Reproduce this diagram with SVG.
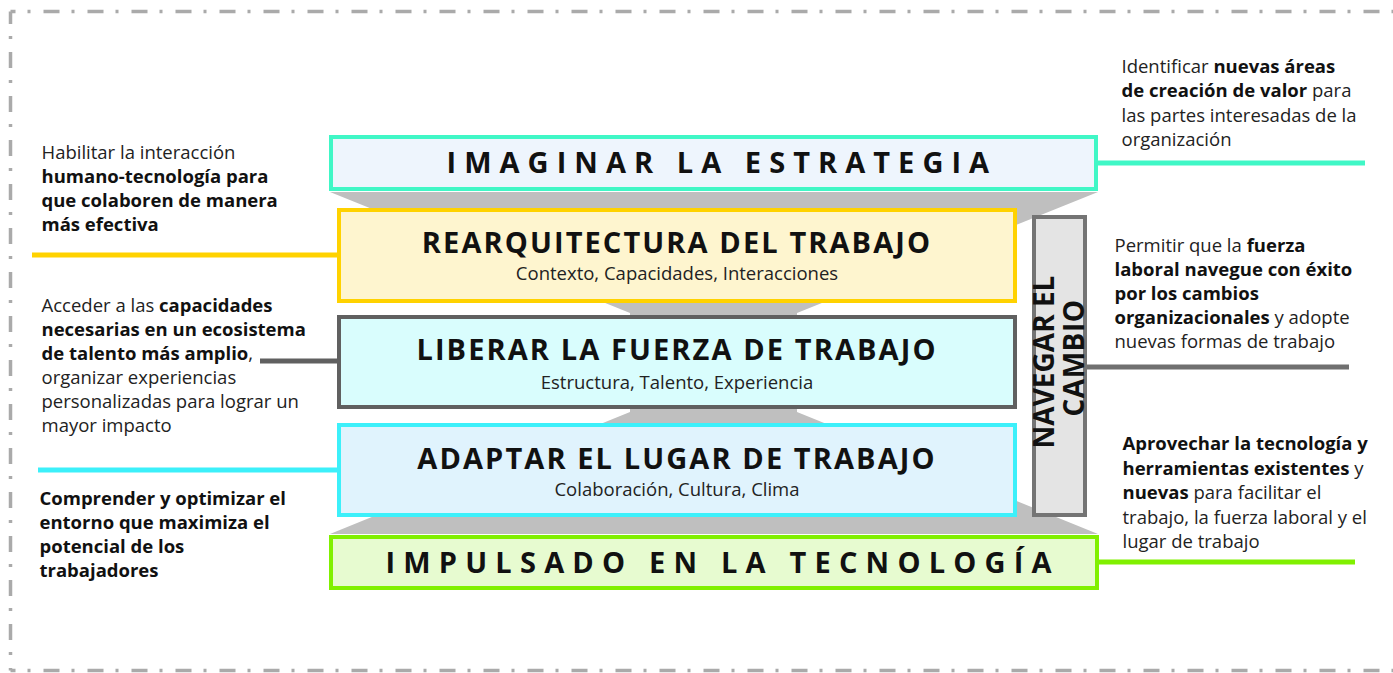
<svg xmlns="http://www.w3.org/2000/svg" width="1393" height="673" viewBox="0 0 1393 673">
<style>
.frame{fill:none;stroke:#aaaaaa;stroke-width:3.5;stroke-dasharray:16 12 3 13}
.box{stroke-width:4}
.title{font-family:"Open Sans","DejaVu Sans",sans-serif;font-weight:700;font-size:29px;fill:#111}
.nav{font-family:"Open Sans","DejaVu Sans",sans-serif;font-weight:700;font-size:28px;fill:#111}
.sub{font-family:"Open Sans","DejaVu Sans",sans-serif;font-size:18.5px;fill:#222;text-anchor:middle}
.note{font-family:"Open Sans","DejaVu Sans",sans-serif;font-size:18.5px;fill:#222}
.b{font-weight:700;fill:#111}
.conn{stroke-width:5;fill:none}
</style>
<rect width="1393" height="673" fill="#ffffff"/>
<g id="frame">
<path class="frame" d="M10.5 11.5 H1393" stroke-dashoffset="11"/>
<path class="frame" d="M10.5 11.5 V670.5" stroke-dashoffset="3.5"/>
<path class="frame" d="M10.5 670.5 H1393" stroke-dashoffset="11"/>
</g>
<g id="hourglass">
<polygon points="330,192 1098,192 797,313 797,412 1098,534 330,534 630,412 630,313" fill="#bfbfbf"/>
</g>
<g id="connectors">
<line class="conn" x1="1098" y1="163" x2="1365" y2="163" stroke="#40f7c6"/>
<line class="conn" x1="32" y1="255" x2="339" y2="255" stroke="#ffd200"/>
<line class="conn" x1="260" y1="361" x2="339" y2="361" stroke="#606060"/>
<line class="conn" x1="38" y1="470" x2="339" y2="470" stroke="#3cf0fa"/>
<line class="conn" x1="1085" y1="367" x2="1349" y2="367" stroke="#707070"/>
<line class="conn" x1="1098" y1="562" x2="1355" y2="562" stroke="#80f000"/>
</g>
<g id="imaginar">
<rect class="box" x="331" y="137" width="765" height="52" fill="#eef5fd" stroke="#40f7c6"/>
<text class="title" x="446.5" y="173.3" letter-spacing="8.05">IMAGINAR LA ESTRATEGIA</text>
</g>
<g id="rearquitectura">
<rect class="box" x="339" y="210" width="676" height="91" fill="#fef5cf" stroke="#ffd200"/>
<text class="title" x="677" y="252.5" text-anchor="middle" letter-spacing="2.1">REARQUITECTURA DEL TRABAJO</text>
<text class="sub" x="677" y="280.3">Contexto, Capacidades, Interacciones</text>
</g>
<g id="liberar">
<rect class="box" x="339" y="317" width="676" height="90" fill="#d9fdfd" stroke="#606060"/>
<text class="title" x="677" y="360.2" text-anchor="middle" letter-spacing="2.1">LIBERAR LA FUERZA DE TRABAJO</text>
<text class="sub" x="677" y="389.3">Estructura, Talento, Experiencia</text>
</g>
<g id="adaptar">
<rect class="box" x="339" y="425" width="676" height="90" fill="#e0f3fd" stroke="#3cf0fa"/>
<text class="title" x="677" y="468.5" text-anchor="middle" letter-spacing="2.1">ADAPTAR EL LUGAR DE TRABAJO</text>
<text class="sub" x="677" y="496">Colaboración, Cultura, Clima</text>
</g>
<g id="impulsado">
<rect class="box" x="331" y="537" width="766" height="51" fill="#e7fbd0" stroke="#80f000"/>
<text class="title" x="385.5" y="573" letter-spacing="8.2">IMPULSADO EN LA TECNOLOGÍA</text>
</g>
<g id="navegar">
<rect class="box" x="1034" y="217" width="51" height="298" fill="#e4e4e4" stroke="#747474"/>
<text class="nav" transform="translate(1053.5,362) rotate(-90)" text-anchor="middle">NAVEGAR EL</text>
<text class="nav" transform="translate(1084,358) rotate(-90)" text-anchor="middle" letter-spacing="0.5">CAMBIO</text>
</g>
<g id="note-habilitar">
<text class="note" x="41.5" y="159">Habilitar la interacción</text>
<text class="note b" x="41.5" y="183">humano-tecnología para</text>
<text class="note b" x="41.5" y="207">que colaboren de manera</text>
<text class="note b" x="41.5" y="231">más efectiva</text>
</g>
<g id="note-acceder">
<text class="note" x="41.5" y="311.5">Acceder a las <tspan class="b">capacidades</tspan></text>
<text class="note b" x="41.5" y="335.5">necesarias en un ecosistema</text>
<text class="note" x="41.5" y="359.5"><tspan class="b">de talento más amplio</tspan>,</text>
<text class="note" x="41.5" y="383.5">organizar experiencias</text>
<text class="note" x="41.5" y="407.5">personalizadas para lograr un</text>
<text class="note" x="41.5" y="431.5">mayor impacto</text>
</g>
<g id="note-comprender">
<text class="note b" x="39.5" y="505">Comprender y optimizar el</text>
<text class="note b" x="39.5" y="529">entorno que maximiza el</text>
<text class="note b" x="39.5" y="553">potencial de los</text>
<text class="note b" x="39.5" y="577">trabajadores</text>
</g>
<g id="note-identificar">
<text class="note" x="1121.5" y="72.5">Identificar <tspan class="b">nuevas áreas</tspan></text>
<text class="note" x="1121.5" y="97"><tspan class="b">de creación de valor</tspan> para</text>
<text class="note" x="1121.5" y="121.5">las partes interesadas de la</text>
<text class="note" x="1121.5" y="146">organización</text>
</g>
<g id="note-permitir">
<text class="note" x="1114.5" y="252">Permitir que la <tspan class="b">fuerza</tspan></text>
<text class="note b" x="1114.5" y="276">laboral navegue con éxito</text>
<text class="note b" x="1114.5" y="300">por los cambios</text>
<text class="note" x="1114.5" y="324"><tspan class="b">organizacionales</tspan> y adopte</text>
<text class="note" x="1114.5" y="348">nuevas formas de trabajo</text>
</g>
<g id="note-aprovechar">
<text class="note b" x="1122.5" y="450">Aprovechar la tecnología y</text>
<text class="note" x="1122.5" y="474.5"><tspan class="b">herramientas existentes</tspan> y</text>
<text class="note" x="1122.5" y="499"><tspan class="b">nuevas</tspan> para facilitar el</text>
<text class="note" x="1122.5" y="523.5">trabajo, la fuerza laboral y el</text>
<text class="note" x="1122.5" y="548">lugar de trabajo</text>
</g>
</svg>
